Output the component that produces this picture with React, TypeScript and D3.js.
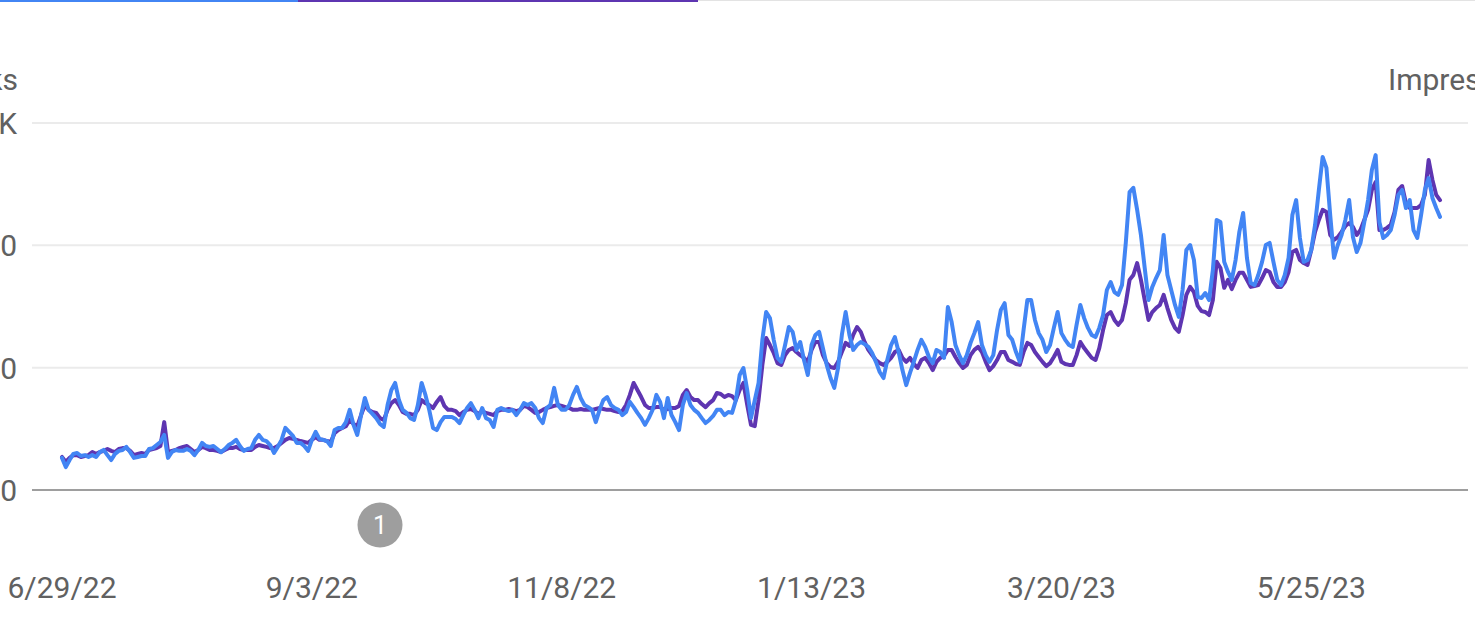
import React from 'react';
import * as d3 from 'd3';

const startDate = new Date(2022, 5, 29);
const xTickDates = [new Date(2022, 5, 29), new Date(2022, 8, 3), new Date(2022, 10, 8), new Date(2023, 0, 13), new Date(2023, 2, 20), new Date(2023, 4, 25)];
const xTickLabels = ['6/29/22', '9/3/22', '11/8/22', '1/13/23', '3/20/23', '5/25/23'];
const clicksTicks = [0, 400, 800, 1200];
const clicksTickLabels = ['0', '400', '800', '1.2K'];
const imprTicks = [0, 10000, 20000, 30000];
const imprTickLabels = ['0', '10K', '20K', '30K'];
const annotationDate = new Date(2022, 8, 21);

const clicks = [105,75,98,118,121,111,114,108,114,108,
124,131,114,98,118,128,131,141,124,105,
108,111,111,134,137,147,157,180,105,124,
131,128,128,134,128,114,131,154,144,141,
144,134,124,134,147,154,164,144,128,134,
137,164,180,164,160,147,121,141,164,203,
190,177,154,154,144,128,164,190,167,164,
160,144,196,203,203,222,262,213,180,245,
301,262,249,235,216,206,278,327,350,294,
262,252,235,229,278,350,311,262,203,196,
222,239,239,239,232,219,245,268,284,262,
235,268,235,229,206,262,268,262,258,262,
245,262,284,278,284,268,235,219,268,278,
334,278,262,262,278,311,337,301,278,271,
262,222,262,294,304,278,268,262,245,255,
288,271,252,235,213,235,262,311,288,235,
301,245,222,196,278,317,278,262,252,235,
219,229,242,262,262,245,255,252,294,376,
399,327,235,294,350,491,582,562,491,432,
419,474,533,517,458,484,425,376,474,507,
517,464,409,366,334,399,507,582,507,458,
474,484,477,468,448,419,386,366,425,474,
500,451,392,343,383,419,458,491,468,435,
415,458,451,432,598,549,474,441,415,441,
481,513,549,474,441,419,441,523,589,611,
507,491,451,419,523,621,621,556,513,491,
451,474,530,582,513,491,474,468,540,605,
562,530,507,500,530,572,654,680,647,638,
670,808,974,988,916,834,726,621,664,693,
719,834,703,654,605,566,654,785,801,752,
631,628,644,621,719,883,876,746,713,687,
752,844,906,759,677,670,703,746,801,808,
746,687,670,703,759,899,948,824,746,752,
785,867,981,1089,1053,899,759,801,834,883,
948,827,778,808,876,948,1046,1095,876,824,
834,850,899,965,981,922,948,850,824,899,
981,1020,955,922,893];

const impressions = [2700,2300,2625,2850,2850,2700,2775,2850,3100,2950,
3100,3200,3350,3200,3100,3350,3425,3425,3200,2850,
2950,3025,2950,3275,3350,3425,3600,5550,3100,3200,
3275,3425,3525,3600,3350,3100,3275,3525,3425,3275,
3275,3200,3100,3275,3425,3425,3525,3350,3275,3275,
3275,3525,3675,3600,3525,3425,3425,3600,3850,4100,
4250,4175,4100,4000,3925,3850,4100,4325,4100,4100,
4000,3925,4650,4900,5075,5225,5725,5400,5225,6125,
6950,6550,6375,6300,5875,5725,6550,7100,7350,6950,
6375,6225,6225,6125,6550,7350,7100,6950,6700,7200,
7600,6875,6550,6550,6450,6125,6375,6550,6625,6450,
6225,6450,6300,6225,6125,6450,6550,6550,6625,6550,
6450,6550,6875,6775,6550,6300,6375,6550,6700,6775,
6875,6950,6875,6775,6700,6550,6550,6625,6550,6550,
6550,6625,6700,6625,6550,6550,6450,6375,6450,6950,
7775,8750,8175,7600,6950,6700,6700,6775,6775,6550,
6625,6700,6700,6875,7775,8175,7600,7350,7350,7025,
6775,7100,7350,7925,7850,7600,7775,7675,7350,8175,
8750,6950,5325,5225,7350,10225,12425,11850,11200,10375,
10225,11025,11450,11600,11275,11025,10800,10475,11450,12100,
12100,11025,10375,10050,9975,10475,11275,12025,11775,12675,
13325,12925,12100,11450,11025,10625,10375,10225,10475,10800,
11275,11450,10800,10475,10800,10300,9975,10625,10800,10375,
9800,10475,10800,10950,11450,11450,10875,10375,9975,10225,
11025,11450,11700,11275,10475,9800,10125,10625,11275,11275,
10625,10475,10300,10225,11275,12025,11850,11275,10875,10475,
10125,10375,10875,11450,10475,10300,10225,10225,11025,12100,
11600,11200,10800,10625,11600,13075,14300,14550,13900,13500,
13900,15275,17175,17575,18550,17175,15525,13900,14550,14875,
15125,15950,14875,13900,13250,12925,14300,15950,16600,16175,
15050,14625,14550,14300,15525,18650,18150,16525,17175,16425,
17175,17750,17750,17175,16600,16675,16750,17325,17975,17825,
17000,16600,16600,17000,17825,19450,19625,18800,18550,18400,
19625,21100,22075,22900,22725,20850,20450,20675,21100,21575,
21825,21500,20850,21250,22075,22900,24525,25175,21250,21250,
21425,21675,22725,24525,24850,23450,23050,23050,23050,23300,
24125,26975,25350,24125,23700];

const BLUE = '#4285f4';
const PURPLE = '#5e35b1';
const TEXT = '#616161';

export default function App() {
  const W = 1475;
  const H = 637;
  const dates = clicks.map((_, i) => d3.timeDay.offset(startDate, i));
  const x = d3.scaleTime().domain([dates[0], dates[dates.length - 1]]).range([62, 1440]);
  const yL = d3.scaleLinear().domain([0, 1200]).range([490, 123]);
  const yR = d3.scaleLinear().domain([0, 30000]).range([490, 123]);

  const clicksLine = d3.line<number>().x((_, i) => x(dates[i])).y((d) => yL(d));
  const imprLine = d3.line<number>().x((_, i) => x(dates[i])).y((d) => yR(d));

  const font = 'Roboto, "Noto Sans", sans-serif';

  return (
    <div style={{ position: 'absolute', left: 0, top: 0, width: W, height: H, background: '#fff' }}>
      <svg width={W} height={H} style={{ display: 'block' }} fontFamily={font}>
        {/* top tab indicators */}
        <rect x={0} y={0} width={298} height={2} fill={BLUE} />
        <rect x={298} y={0} width={400} height={2} fill={PURPLE} />
        <rect x={698} y={0} width={W - 698} height={1} fill="#e3e3e3" />

        {/* gridlines */}
        {clicksTicks.map((t, i) => (
          <line
            key={'g' + i}
            x1={32}
            x2={1468}
            y1={yL(t)}
            y2={yL(t)}
            stroke={t === 0 ? '#9e9e9e' : '#ebebeb'}
            strokeWidth={2}
          />
        ))}

        {/* left axis labels */}
        {clicksTicks.map((t, i) => (
          <text key={'l' + i} x={17} y={yL(t) + 11} textAnchor="end" fontSize={30} fill={TEXT}>
            {clicksTickLabels[i]}
          </text>
        ))}
        <text x={18} y={90} textAnchor="end" fontSize={30} fill={TEXT}>Clicks</text>

        {/* right axis labels (outside visible area) */}
        {imprTicks.map((t, i) => (
          <text key={'r' + i} x={1490} y={yR(t) + 11} textAnchor="start" fontSize={30} fill={TEXT}>
            {imprTickLabels[i]}
          </text>
        ))}
        <text x={1388} y={90} textAnchor="start" fontSize={30} fill={TEXT}>Impressions</text>

        {/* lines */}
        <path d={imprLine(impressions) || ''} fill="none" stroke={PURPLE} strokeWidth={4} strokeLinejoin="round" strokeLinecap="round" />
        <path d={clicksLine(clicks) || ''} fill="none" stroke={BLUE} strokeWidth={4} strokeLinejoin="round" strokeLinecap="round" />

        {/* annotation marker */}
        <circle cx={x(annotationDate)} cy={525} r={22.5} fill="#9e9e9e" />
        <text x={x(annotationDate)} y={534} textAnchor="middle" fontSize={25} fill="#fff">1</text>

        {/* x axis labels */}
        {xTickDates.map((d, i) => (
          <text key={'x' + i} x={x(d)} y={598} textAnchor="middle" fontSize={30} fill={TEXT}>
            {xTickLabels[i]}
          </text>
        ))}
      </svg>
    </div>
  );
}
